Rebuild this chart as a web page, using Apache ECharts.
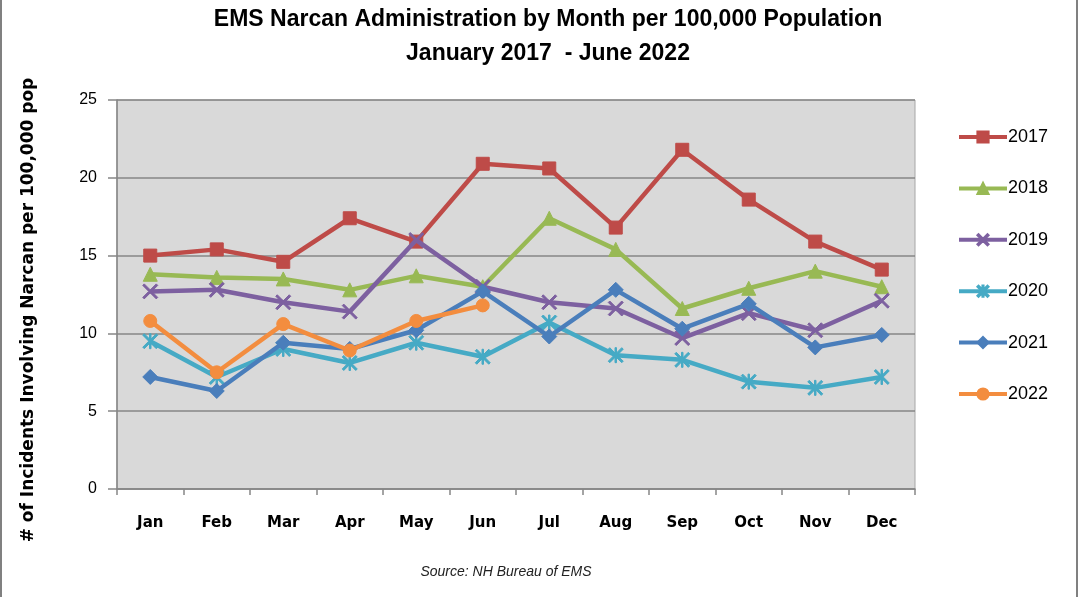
<!DOCTYPE html>
<html>
<head>
<meta charset="utf-8">
<script src="https://cdn.jsdelivr.net/npm/echarts@6/dist/echarts.min.js"></script>
<style>
html,body{margin:0;padding:0;background:#fff;}
#chart{width:1082px;height:597px;}
</style>
</head>
<body>
<div id="chart"></div>
<script>
const months = ['Jan','Feb','Mar','Apr','May','Jun','Jul','Aug','Sep','Oct','Nov','Dec'];
const yTicks = [0, 5, 10, 15, 20, 25];
const seriesNames = ['2017','2018','2019','2020','2021','2022'];
const v2017 = [15.0, 15.4, 14.6, 17.4, 15.9, 20.9, 20.6, 16.8, 21.8, 18.6, 15.9, 14.1];
const v2018 = [13.8, 13.6, 13.5, 12.8, 13.7, 13.0, 17.4, 15.4, 11.6, 12.9, 14.0, 13.0];
const v2019 = [12.7, 12.8, 12.0, 11.4, 16.0, 13.0, 12.0, 11.6, 9.7, 11.3, 10.2, 12.1];
const v2020 = [9.5, 7.2, 9.0, 8.1, 9.4, 8.5, 10.7, 8.6, 8.3, 6.9, 6.5, 7.2];
const v2021 = [7.2, 6.3, 9.4, 9.0, 10.2, 12.7, 9.8, 12.8, 10.3, 11.9, 9.1, 9.9];
const v2022 = [10.8, 7.5, 10.6, 8.9, 10.8, 11.8];
const colors = ['#be4b48', '#98b954', '#7d60a0', '#46aac5', '#4a7ebb', '#f38d3f'];

const xPath = 'path://M0,1.5 L1.5,0 L7.5,6 L13.5,0 L15,1.5 L9,7.5 L15,13.5 L13.5,15 L7.5,9 L1.5,15 L0,13.5 L6,7.5 Z';
const starPath = 'path://M0,1.5 L1.5,0 L7.5,6 L13.5,0 L15,1.5 L9,7.5 L15,13.5 L13.5,15 L7.5,9 L1.5,15 L0,13.5 L6,7.5 Z M6.75,0 L8.25,0 L8.25,15 L6.75,15 Z';
const symbols = ['rect', 'triangle', xPath, starPath, 'diamond', 'circle'];
const sizes = [13, 14, 15, 15, 15, 13];
const allValues = [v2017, v2018, v2019, v2020, v2021, v2022];

const chart = echarts.init(document.getElementById('chart'));
const series = seriesNames.map((n, i) => ({
  name: n,
  type: 'line',
  data: allValues[i],
  symbol: symbols[i],
  symbolSize: sizes[i],
  showAllSymbol: true,
  lineStyle: { color: colors[i], width: 4.5 },
  itemStyle: { color: colors[i], borderColor: colors[i], borderWidth: 1 },
  z: 2 + i
}));

chart.setOption({
  animation: false,
  backgroundColor: '#ffffff',
  color: colors,
  title: {
    text: 'EMS Narcan Administration by Month per 100,000 Population\nJanuary 2017  - June 2022',
    left: 543,
    textAlign: 'center',
    top: -2,
    textStyle: {
      fontFamily: 'Liberation Sans',
      fontWeight: 'bold',
      fontSize: 23,
      lineHeight: 34,
      color: '#000'
    }
  },
  legend: {
    orient: 'vertical',
    left: 957,
    top: 128,
    padding: 0,
    itemWidth: 48,
    itemHeight: 14,
    itemGap: 33.4,
    data: seriesNames,
    lineStyle: { width: 4 },
    textStyle: { fontFamily: 'Liberation Sans', fontSize: 18, color: '#000', padding: [0, 0, 0, -4] }
  },
  grid: {
    left: 117, right: 167, top: 100, bottom: 108,
    show: true,
    backgroundColor: '#d9d9d9',
    borderColor: '#a6a6a6',
    borderWidth: 1
  },
  xAxis: {
    type: 'category',
    data: months,
    boundaryGap: true,
    axisLine: { lineStyle: { color: '#868686', width: 1.5 } },
    axisTick: { show: true, length: 6, lineStyle: { color: '#868686', width: 1.5 } },
    axisLabel: { margin: 27, fontFamily: 'DejaVu Sans', fontWeight: 'bold', fontSize: 15, color: '#000' },
    splitLine: { show: false }
  },
  yAxis: {
    type: 'value',
    min: yTicks[0],
    max: yTicks[yTicks.length - 1],
    interval: yTicks[1] - yTicks[0],
    axisLine: { show: true, lineStyle: { color: '#868686', width: 1.5 } },
    axisTick: { show: true, length: 9, lineStyle: { color: '#868686', width: 1.5 } },
    axisLabel: { margin: 20, fontFamily: 'Liberation Sans', fontSize: 16, color: '#000' },
    splitLine: { show: true, lineStyle: { color: '#868686', width: 1.5 } }
  },
  graphic: [
    {
      type: 'text',
      x: 29,
      y: 310,
      rotation: Math.PI / 2,
      style: {
        text: '# of Incidents Involving Narcan per 100,000 pop',
        font: 'bold 17px "DejaVu Sans"',
        fill: '#000',
        textAlign: 'center',
        textVerticalAlign: 'middle'
      }
    },
    {
      type: 'text',
      x: 506,
      y: 572,
      style: {
        text: 'Source: NH Bureau of EMS',
        font: 'italic 14px "Liberation Sans"',
        fill: '#222',
        textAlign: 'center',
        textVerticalAlign: 'middle'
      }
    },
    { type: 'rect', shape: { x: 0, y: 0, width: 2, height: 597 }, style: { fill: '#808080' } },
    { type: 'rect', shape: { x: 1076, y: 0, width: 2, height: 597 }, style: { fill: '#808080' } }
  ],
  series: series
});
</script>
</body>
</html>
